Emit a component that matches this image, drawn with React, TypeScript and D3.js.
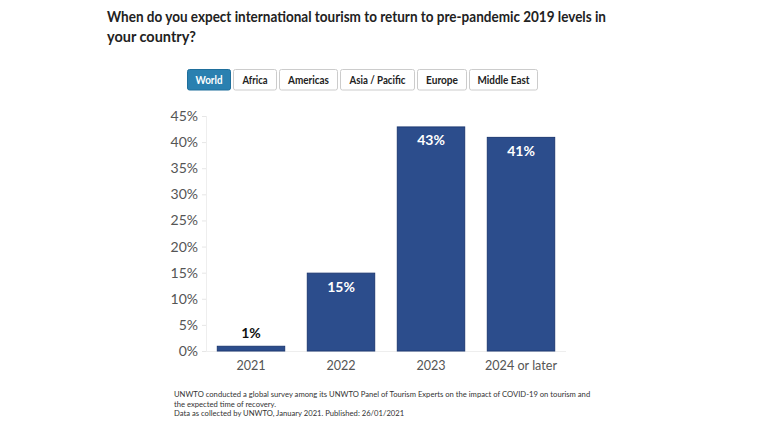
import React from "react";
import * as d3 from "d3";

const title = [
  "When do you expect international tourism to return to pre-pandemic 2019 levels in",
  "your country?",
];
const regions = ["World", "Africa", "Americas", "Asia / Pacific", "Europe", "Middle East"];
const categories = ["2021", "2022", "2023", "2024 or later"];
const values = [1, 15, 43, 41];
const yTicks = [0, 5, 10, 15, 20, 25, 30, 35, 40, 45];
const footnote = [
  "UNWTO conducted a global survey among its UNWTO Panel of Tourism Experts on the impact of COVID-19 on tourism and",
  "the expected time of recovery.",
  "Data as collected by UNWTO, January 2021. Published: 26/01/2021",
];

const W = 760;
const H = 428;
const font = "Lato, 'Open Sans', sans-serif";

// layout constants (pixel widths of title lines and buttons)
const titleLens = [499, 89];
const btnWidths = [44, 44, 59, 75, 50, 69];
const btnTextLens = [27, 25, 41, 56, 32, 52];

export default function App() {
  const x = d3.scaleBand().domain(categories).range([206, 566]).paddingInner(0.24).paddingOuter(0.12);
  const y = d3.scaleLinear().domain([0, 45]).range([351, 116]);

  let bx = 187;
  const btns = regions.map((r, i) => {
    const b = { r, x: bx, w: btnWidths[i] };
    bx += btnWidths[i] + 2;
    return b;
  });

  return (
    <svg width={W} height={H} style={{ position: "absolute", left: 0, top: 0, background: "#fff" }}>
      <rect x={0} y={0} width={W} height={H} fill="#fff" />
      {title.map((t, i) => (
        <text
          key={i}
          x={107}
          y={22 + i * 20}
          fontFamily={font}
          fontWeight={700}
          fontSize={15}
          fill="#222"
          textLength={titleLens[i]}
          lengthAdjust="spacingAndGlyphs"
        >
          {t}
        </text>
      ))}
      {btns.map((b, i) => (
        <g key={b.r}>
          <rect
            x={b.x + 0.5}
            y={69.5}
            width={b.w - 1}
            height={20.5}
            rx={2}
            fill={i === 0 ? "#2a80b0" : "#fff"}
            stroke={i === 0 ? "#1f6f9c" : "#ccc"}
          />
          <text
            x={b.x + (b.w - btnTextLens[i]) / 2}
            y={84}
            fontFamily={font}
            fontWeight={700}
            fontSize={11.5}
            fill={i === 0 ? "#fff" : "#222"}
            textLength={btnTextLens[i]}
            lengthAdjust="spacingAndGlyphs"
          >
            {b.r}
          </text>
        </g>
      ))}
      <line x1={206.5} x2={206.5} y1={116} y2={351} stroke="#eee" />
      {yTicks.map((t) => (
        <g key={t}>
          <line x1={202} x2={206} y1={y(t) + 0.5} y2={y(t) + 0.5} stroke="#e6e6e6" />
          <text x={198} y={y(t) + 5} textAnchor="end" fontFamily={font} fontSize={14} fill="#555">
            {t}%
          </text>
        </g>
      ))}
      <line x1={206} x2={566} y1={351.5} y2={351.5} stroke="#eee" />
      {categories.map((c, i) => {
        const x0 = x(c)!;
        const bw = x.bandwidth();
        const top = y(values[i]);
        const inside = values[i] > 5;
        return (
          <g key={c}>
            <rect x={x0 + 0.5} y={top + 0.5} width={bw - 1} height={y(0) - top - 0.5} fill="#2c4d8c" stroke="#1e3a73" />
            <text
              x={x0 + bw / 2}
              y={inside ? top + 19 : top - 8}
              textAnchor="middle"
              fontFamily={font}
              fontWeight={700}
              fontSize={14}
              fill={inside ? "#fff" : "#111"}
              stroke={inside ? "none" : "#fff"}
              strokeWidth={inside ? 0 : 2}
              paintOrder="stroke"
            >
              {values[i]}%
            </text>
            <text x={x0 + bw / 2} y={370} textAnchor="middle" fontFamily={font} fontSize={12.6} fill="#555">
              {c}
            </text>
          </g>
        );
      })}
      {footnote.map((t, i) => (
        <text key={i} x={174} y={397 + i * 9.5} fontFamily={font} fontSize={7.65} fill="#333">
          {t}
        </text>
      ))}
    </svg>
  );
}
